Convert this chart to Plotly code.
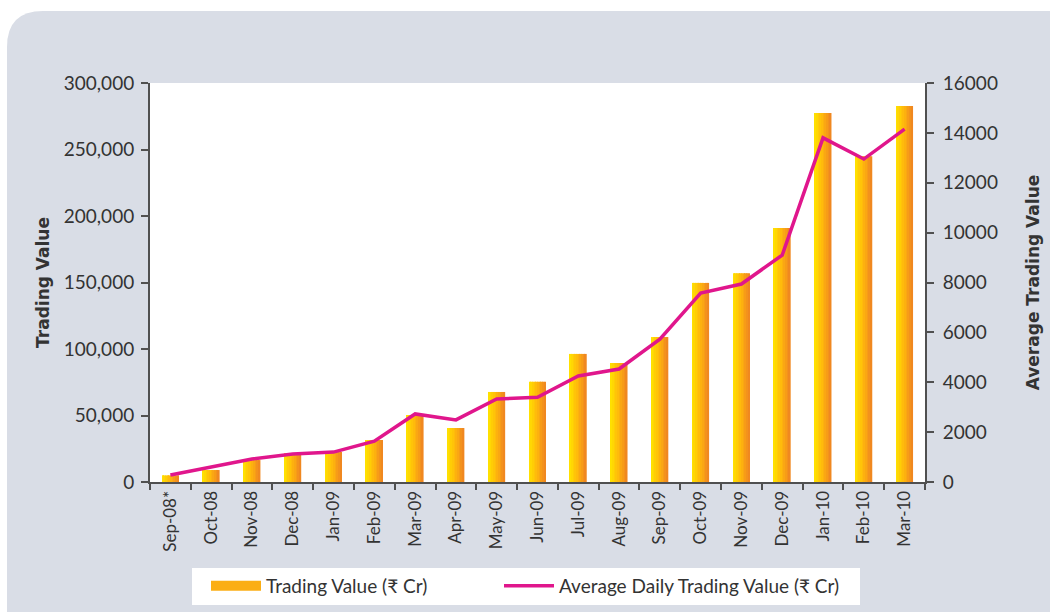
import plotly.graph_objects as go

months = ["Sep-08*", "Oct-08", "Nov-08", "Dec-08", "Jan-09", "Feb-09", "Mar-09", "Apr-09",
          "May-09", "Jun-09", "Jul-09", "Aug-09", "Sep-09", "Oct-09", "Nov-09", "Dec-09",
          "Jan-10", "Feb-10", "Mar-10"]
trading_value = [5000, 9000, 16500, 21800, 22500, 31600, 50400, 40600, 67700, 75400,
                 96300, 89500, 109000, 149700, 157000, 191000, 277500, 245000, 282700]
avg_daily_value = [280, 600, 920, 1120, 1200, 1640, 2730, 2490, 3330, 3400,
                   4250, 4530, 5730, 7580, 7940, 9100, 13800, 12950, 14150]

left_ticks = [0, 50000, 100000, 150000, 200000, 250000, 300000]
right_ticks = [0, 2000, 4000, 6000, 8000, 10000, 12000, 14000, 16000]

FONT = "Lato, 'Open Sans', 'DejaVu Sans', sans-serif"
TITLE_FONT = "'DejaVu Sans', Verdana, sans-serif"
TXT = "#333333"
AX = "#505050"


def lerp(c1, c2, t):
    return tuple(int(round(a + (b - a) * t)) for a, b in zip(c1, c2))


stops = [(255, 224, 0), (255, 182, 12), (240, 136, 32)]
n_slices = 10
bar_w = 0.41
sw = bar_w / n_slices

fig = go.Figure()
for i in range(n_slices):
    t = i / (n_slices - 1)
    if t < 0.5:
        c = lerp(stops[0], stops[1], t / 0.5)
    else:
        c = lerp(stops[1], stops[2], (t - 0.5) / 0.5)
    fig.add_trace(go.Bar(
        x=months, y=trading_value,
        width=sw * 1.05, offset=-bar_w / 2 + i * sw,
        marker=dict(color="rgb(%d,%d,%d)" % c, line=dict(width=0)),
        name="Trading Value (₹ Cr)",
        showlegend=False,
        legendgroup="tv",
        yaxis="y",
    ))

# legend entry for the bars (drawn as a wide swatch)
fig.add_trace(go.Scatter(
    x=[None], y=[None], mode="lines",
    line=dict(color="#fbae14", width=14),
    name="Trading Value (₹ Cr)", legendgroup="tv", showlegend=True,
    legend="legend",
))

fig.add_trace(go.Scatter(
    x=months, y=avg_daily_value, mode="lines",
    line=dict(color="#e0168c", width=3.5),
    name="Average Daily Trading Value (₹ Cr)",
    yaxis="y2", legend="legend2",
))

W, H = 1050, 612
L, R, T, B = 150, 125, 83, 130
PW, PH = W - L - R, H - T - B


def px(xp):
    return (xp - L) / PW


def py(yp):
    return (H - B - yp) / PH


x0, y0 = px(7), py(11)
x1, y1 = px(1070), py(630)
rx, ry = 36 / PW, 36 / PH
panel = (f"M {x0},{y1} L {x0},{y0 - ry} Q {x0},{y0} {x0 + rx},{y0} "
         f"L {x1},{y0} L {x1},{y1} Z")

legend_common = dict(
    orientation="h", xanchor="left", yanchor="middle",
    xref="container", yref="container",
    bgcolor="rgba(0,0,0,0)", borderwidth=0, itemwidth=50,
    font=dict(size=19, color=TXT),
)

fig.update_layout(
    width=W, height=H,
    margin=dict(l=L, r=R, t=T, b=B, autoexpand=False),
    paper_bgcolor="white",
    plot_bgcolor="rgba(0,0,0,0)",
    barmode="overlay",
    font=dict(family=FONT, color=TXT, size=16),
    shapes=[
        dict(type="path", path=panel, xref="paper", yref="paper",
             fillcolor="#d9dde6", line=dict(width=0), layer="below"),
        dict(type="rect", x0=0, x1=1, y0=0, y1=1, xref="paper", yref="paper",
             fillcolor="white", line=dict(width=0), layer="below"),
        dict(type="rect", x0=px(192), x1=px(860), y0=py(605), y1=py(568),
             xref="paper", yref="paper",
             fillcolor="white", line=dict(width=0), layer="below"),
    ],
    xaxis=dict(
        type="category", range=[-0.5, len(months) - 0.5],
        showline=True, linecolor=AX, linewidth=2,
        ticks="outside", ticklen=6, tickwidth=2, tickcolor=AX,
        tickson="boundaries", tickangle=-90,
        tickfont=dict(size=17, color=TXT), showgrid=False, zeroline=False,
    ),
    yaxis=dict(
        range=[0, 300000], tickvals=left_ticks,
        tickformat=",d",
        showline=True, linecolor=AX, linewidth=2,
        ticks="outside", ticklen=7, tickwidth=2, tickcolor=AX,
        ticklabelstandoff=3,
        tickfont=dict(size=19, color=TXT), showgrid=False, zeroline=False,
        title=dict(text="<b>Trading Value</b>",
                   font=dict(size=17, color=TXT, family=TITLE_FONT), standoff=10),
    ),
    yaxis2=dict(
        range=[0, 16000], tickvals=right_ticks,
        tickformat="d", overlaying="y", side="right",
        showline=True, linecolor=AX, linewidth=2,
        ticks="outside", ticklen=7, tickwidth=2, tickcolor=AX,
        ticklabelstandoff=5,
        tickfont=dict(size=19, color=TXT), showgrid=False, zeroline=False,
        title=dict(text="<b>Average Trading Value</b>",
                   font=dict(size=17, color=TXT, family=TITLE_FONT), standoff=30),
    ),
    legend=dict(x=206 / W, y=1 - 586 / H, **legend_common),
    legend2=dict(x=499 / W, y=1 - 586 / H, **legend_common),
)

fig.write_html("out.html", config={"displayModeBar": False},
               post_script="document.body.style.margin='0';")
